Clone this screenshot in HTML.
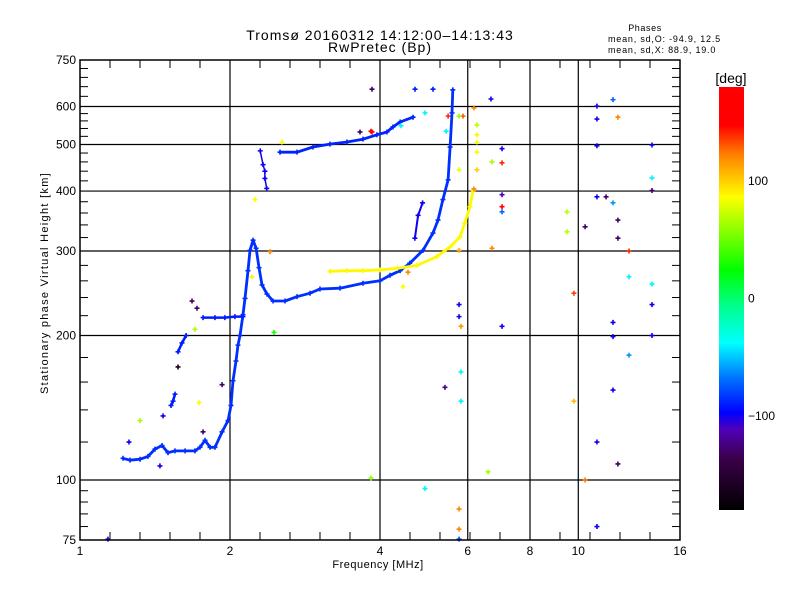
<!DOCTYPE html>
<html><head><meta charset="utf-8"><style>
html,body{margin:0;padding:0;background:#fff;}
svg{display:block;font-family:"Liberation Sans",sans-serif;}
</style></head><body>
<svg id="chart" width="800" height="600" viewBox="0 0 800 600" xmlns="http://www.w3.org/2000/svg">
<defs>
<linearGradient id="cb" x1="0" y1="1" x2="0" y2="0">
<stop offset="0" stop-color="#000000"/>
<stop offset="0.12" stop-color="#3a0048"/>
<stop offset="0.19" stop-color="#5000b8"/>
<stop offset="0.23" stop-color="#0000ff"/>
<stop offset="0.31" stop-color="#0070ff"/>
<stop offset="0.395" stop-color="#00ffff"/>
<stop offset="0.48" stop-color="#00ff90"/>
<stop offset="0.567" stop-color="#00ff00"/>
<stop offset="0.74" stop-color="#ffff00"/>
<stop offset="0.84" stop-color="#ff8000"/>
<stop offset="0.91" stop-color="#ff0000"/>
<stop offset="1" stop-color="#ff0000"/>
</linearGradient>
</defs>
<text x="380" y="40" font-size="14" letter-spacing="1" text-anchor="middle">Tromsø 20160312 14:12:00–14:13:43</text>
<text x="380" y="52" font-size="14" letter-spacing="1" text-anchor="middle">RwPretec (Bp)</text>
<text x="645" y="31" font-size="9" letter-spacing="0.6" text-anchor="middle">Phases</text>
<text x="608" y="42" font-size="9" letter-spacing="0.8">mean, sd,O: -94.9, 12.5</text>
<text x="608" y="53" font-size="9" letter-spacing="0.8">mean, sd,X:  88.9, 19.0</text>
<g id="grid"></g>
<g id="marks"></g>
<rect x="80" y="60" width="600" height="480" fill="none" stroke="#000" stroke-width="1.5"/>
<g id="axes"></g>
<text x="378" y="568" font-size="11" letter-spacing="0.5" text-anchor="middle">Frequency [MHz]</text>
<text x="48" y="283" font-size="11" letter-spacing="1.3" text-anchor="middle" transform="rotate(-90 48 283)">Stationary phase Virtual Height [km]</text>
<rect x="719" y="87" width="25" height="423" fill="url(#cb)"/>
<text x="731" y="83" font-size="14" text-anchor="middle">[deg]</text>
<g id="cbticks"></g>
</svg>
<script>
// ---- data ----
const xTicks = [1, 2, 4, 6, 8, 10, 16];
const xGrid = [2, 4, 6, 8, 10];
const yTicks = [75, 100, 200, 300, 400, 500, 600, 750];
const yGrid = [100, 200, 300, 400, 500, 600];
const yMinor = [80,85,90,95,120,140,160,180,220,240,260,280,320,340,360,380,420,440,460,480,520,540,560,580,630,660,690,720];
const cbTicks = [100, 0, -100];

// O-mode lower trace (freq MHz, height km)
const oLowF = [1.220,1.260,1.320,1.369,1.414,1.461,1.502,1.551,1.625,1.701,1.741,1.782,1.824,1.866,1.928,1.982,2.009,2.028,2.056,2.075,2.095,2.124,2.144,2.173,2.194,2.225,2.256,2.287,2.319,2.373,2.440,2.579,2.726,2.895,3.031,3.325,3.698,4.0,4.19,4.39,4.59,4.88,5.11,5.23,5.35,5.48,5.53,5.58,5.60];
const oLowH = [111,110,110.5,112,116,118,114,115,115,115,117,121,117,117,126,133,143,161,177,191,200,221,239,273,301,316,304,277,255,244,236,236,241,245,250,251,257,260,267,273,283,301,327,348,384,422,494,582,650];
const oLowP = -85;

// upper F2 O-mode trace
const oUpF = [2.52,2.726,2.935,3.175,3.434,3.698,3.944,4.13,4.247,4.39,4.66];
const oUpH = [482,482,494,501,506,513,524,531,544,557,570];
const oUpP = -88;

// short branches
const brF = [1.573,1.602,1.633];
const brH = [185,193,200];
const br2F = [1.523,1.537,1.551];
const br2H = [143,146,151];
const plF = [1.766,1.866,1.953,2.046,2.124];
const plH = [218,218,218,219,219];
const br3F = [4.70,4.77,4.87];
const br3H = [319,356,378];
const stubF = [2.30,2.33,2.35,2.35,2.37];
const stubH = [485,454,440,425,405];

// X-mode trace
const xModeF = [3.175,3.434,3.698,4.0,4.33,4.75,5.2,5.53,5.79,5.92,6.06,6.15];
const xModeH = [272,273,273,274,276,280,292,306,321,343,371,401];
const xModeP = 88;

// scattered echoes
const scF = [3.855,4.703,5.11,6.68,5.48,5.87,5.764,4.925,4.407,5.43,6.26,6.175,6.26,6.26,6.26,6.26,6.71,7.03,7.03,5.764,6.175,7.03,7.03,7.03,6.71,5.764,9.49,9.49,10.32,10.9,11.37,11.74,12.01,12.01,12.64,9.80,12.64,14.06,14.06,11.74,11.74,14.06,12.64,11.74,9.80,10.9,12.01,10.32,10.9,10.9,10.9,11.74,12.01,10.9,14.06,14.06,14.06,5.764,5.764,5.815,7.03,5.815,5.4,5.815,6.59,4.925,5.764,5.764,5.764,4.449,4.553,2.543,3.837,3.647,3.855,2.245,1.701,1.678,1.717,1.573,1.928,1.733,1.32,1.468,2.451,2.406,2.214,1.766,1.447,1.254,3.837,1.138];
const scH = [652,652,652,622,573,573,573,582,547,533,549,596,524,506,482,443,460,490,458,443,404,393,371,362,304,301,362,329,337,389,389,378,348,319,300,245,265,256,232,213,199,200,182,154,146,120,108,100,80,601,565,620,570,497,499,426,401,232,219,209,209,168,156,146,104,96,87,79,75.3,253,271,506,533,531,531,384,206,236,228,172,158,145,133,136,203,299,265,126,107,120,101,75.3];
const scP = [-130,-90,-90,-100,140,130,60,-40,-40,-40,70,120,90,85,85,100,65,-100,140,80,120,-110,150,-70,120,110,70,70,-130,-100,-130,-60,-130,-130,140,135,-40,-40,-100,-100,-100,-100,-60,-100,105,-100,-130,125,-100,-100,-100,-70,120,-100,-100,-40,-130,-100,-100,115,-100,-40,-120,-40,65,-40,120,120,-80,85,120,85,150,-130,150,85,65,-130,-130,-160,-130,85,65,-100,30,120,90,-130,-100,-100,60,-100];

// ---- scales ----
const X0=80, X1=680, Y0=540, Y1=60;
function xs(f){ return X0 + (X1-X0)*Math.log2(f)/4; }
function ys(h){ return Y0 - (Y0-Y1)*Math.log10(h/75); }
const stops=[[0,[0,0,0]],[0.12,[58,0,72]],[0.19,[80,0,184]],[0.23,[0,0,255]],[0.31,[0,112,255]],[0.395,[0,255,255]],[0.48,[0,255,144]],[0.567,[0,255,0]],[0.74,[255,255,0]],[0.84,[255,128,0]],[0.91,[255,0,0]],[1,[255,0,0]]];
function col(p){
  const t=Math.max(0,Math.min(1,(p+180)/360));
  for(let i=1;i<stops.length;i++){
    if(t<=stops[i][0]){
      const a=stops[i-1],b=stops[i],u=(t-a[0])/(b[0]-a[0]||1);
      const c=a[1].map((v,k)=>Math.round(v+(b[1][k]-v)*u));
      return 'rgb('+c.join(',')+')';
    }
  }
  return 'rgb(255,0,0)';
}
function cbY(p){ return 510 - 423*(p+180)/360; }

const NS='http://www.w3.org/2000/svg';
function mk(tag, parent, attrs){
  const e=document.createElementNS(NS,tag);
  for(const k in attrs) e.setAttribute(k,attrs[k]);
  parent.appendChild(e); return e;
}
const grid=document.getElementById('grid');
const axes=document.getElementById('axes');
const marks=document.getElementById('marks');
const cbt=document.getElementById('cbticks');

xGrid.forEach(f=>{
  const l=mk('line',grid,{x1:xs(f),x2:xs(f),y1:Y1,y2:Y0,stroke:'#000','stroke-width':1.2});
  
  
});
yGrid.forEach(h=>{
  const l=mk('line',grid,{x1:X0,x2:X1,y1:ys(h),y2:ys(h),stroke:'#000','stroke-width':1.2});
  
  
});
for(let k=1;k<20;k++){
  const f=Math.pow(2,k/5), x=xs(f);
  const a=mk('line',axes,{x1:x,x2:x,y1:Y0,y2:Y0-8,stroke:'#000'});
  
  
  const b=mk('line',axes,{x1:x,x2:x,y1:Y1,y2:Y1+8,stroke:'#000'});
  
  
}
yMinor.forEach(h=>{
  const y=ys(h);
  const a=mk('line',axes,{x1:X0,x2:X0+8,y1:y,y2:y,stroke:'#000'});
  
  
  const b=mk('line',axes,{x1:X1-8,x2:X1,y1:y,y2:y,stroke:'#000'});
  
  
});
xTicks.forEach(f=>{
  const t=mk('text',axes,{x:xs(f),y:555,'font-size':12,'text-anchor':'middle'});
  t.textContent=String(f);
  
  
});
yTicks.forEach(h=>{
  const t=mk('text',axes,{x:76,y:ys(h)+4,'font-size':12,'text-anchor':'end'});
  t.textContent=String(h);
  
  
});
cbTicks.forEach(p=>{
  const t=mk('text',cbt,{x:748,y:cbY(p)+4,'font-size':12});
  t.textContent=p<0?'\u2212'+Math.abs(p):String(p);
  
  
});

function plus(x,y,c,g){
  const p=mk('path',g,{d:'M'+(x-2.5)+' '+y+'h5M'+x+' '+(y-2.5)+'v5',stroke:c,'stroke-width':1.6,fill:'none'});
  
  
}
function trace(F,H,p,name,w){
  const c=col(p);
  const g=mk('g',marks,{});
  
  
  const pts=F.map((f,i)=>xs(f).toFixed(1)+','+ys(H[i]).toFixed(1)).join(' ');
  const pl=mk('polyline',g,{points:pts,fill:'none',stroke:c,'stroke-width':w,'stroke-linejoin':'round','stroke-linecap':'round'});
  
  
  F.forEach((f,i)=>plus(xs(f),ys(H[i]),c,g));
}
trace(oLowF,oLowH,oLowP,'o-mode-lower-trace',2.8);
trace(oUpF,oUpH,oUpP,'o-mode-upper-trace',2.8);
trace(brF,brH,-90,'o-branch-a',2.5);
trace(br2F,br2H,-90,'o-branch-b',2.5);
trace(plF,plH,-90,'o-plateau',2.5);
trace(br3F,br3H,-100,'o-branch-c',2);
trace(stubF,stubH,-100,'o-stub',1.5);
trace(xModeF,xModeH,xModeP,'x-mode-trace',2.8);
const sg=mk('g',marks,{});


scF.forEach((f,i)=>plus(xs(f),ys(scH[i]),col(scP[i]),sg));
</script>
</body></html>
